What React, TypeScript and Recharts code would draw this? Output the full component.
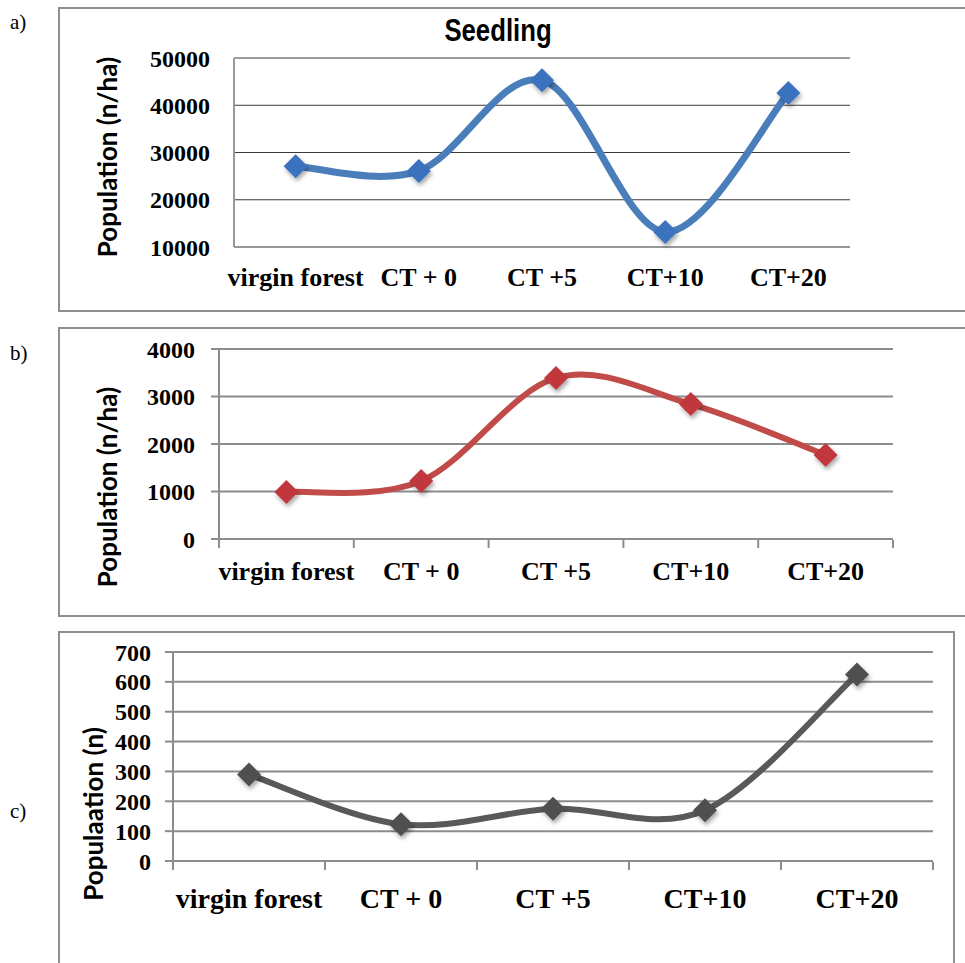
import React from 'react'
import { LineChart, Line, XAxis, YAxis, CartesianGrid } from 'recharts'

const categories = ['virgin forest', 'CT + 0', 'CT +5', 'CT+10', 'CT+20']
const seedlingValues = [27100, 26100, 45300, 13200, 42600]
const panelBValues = [990, 1220, 3390, 2840, 1770]
const panelCValues = [290, 123, 175, 170, 625]
const ticksA = [10000, 20000, 30000, 40000, 50000]
const ticksB = [0, 1000, 2000, 3000, 4000]
const ticksC = [0, 100, 200, 300, 400, 500, 600, 700]
const edgeTicks = [0, 1, 2, 3, 4, 5]

const toRows = (values: number[]) => categories.map((name, i) => ({ name, value: values[i] }))

// Excel-like smoothed line (Catmull-Rom through every point)
const smoothCurve = (context: any) => {
  let pts: number[][] = []
  return {
    areaStart() {},
    areaEnd() {},
    lineStart() {
      pts = []
    },
    point(x: number, y: number) {
      pts.push([+x, +y])
    },
    lineEnd() {
      const n = pts.length
      if (!n) return
      context.moveTo(pts[0][0], pts[0][1])
      for (let i = 0; i < n - 1; i++) {
        const p0 = pts[i - 1] || pts[i]
        const p1 = pts[i]
        const p2 = pts[i + 1]
        const p3 = pts[i + 2] || p2
        context.bezierCurveTo(
          p1[0] + (p2[0] - p0[0]) / 6,
          p1[1] + (p2[1] - p0[1]) / 6,
          p2[0] - (p3[0] - p1[0]) / 6,
          p2[1] - (p3[1] - p1[1]) / 6,
          p2[0],
          p2[1]
        )
      }
    },
  }
}

const diamond = (fill: string, r: number) => (props: any) => {
  const { cx, cy, index } = props
  if (cx == null || cy == null) return <g key={`d${index}`} />
  return (
    <polygon
      key={`d${index}`}
      points={`${cx},${cy - r} ${cx + r},${cy} ${cx},${cy + r} ${cx - r},${cy}`}
      fill={fill}
      filter="url(#markerShadow)"
    />
  )
}

const serif = "'Liberation Serif', 'Times New Roman', serif"
const yTickFont = { fill: '#000', fontSize: 24, fontWeight: 'bold', fontFamily: serif }
const xTickFont = (size: number) => ({ fill: '#000', fontSize: size, fontWeight: 'bold', fontFamily: serif })

const frame = (left: number, top: number, width: number, height: number): React.CSSProperties => ({
  position: 'absolute',
  left,
  top,
  width,
  height,
  border: '2px solid #8f8f8f',
  boxSizing: 'border-box',
})

const panelLabel = (top: number): React.CSSProperties => ({
  position: 'absolute',
  left: 10,
  top,
  fontFamily: serif,
  fontSize: 21,
  lineHeight: '24px',
  color: '#000',
})

const yTitle = (cx: number, cy: number): React.CSSProperties => ({
  position: 'absolute',
  left: cx,
  top: cy,
  transform: 'translate(-50%, -50%) rotate(-90deg)',
  whiteSpace: 'nowrap',
  fontFamily: "Lato, 'Open Sans', sans-serif",
  fontWeight: 'bold',
  fontSize: 26,
  lineHeight: '28px',
  color: '#000',
})

const blank = () => ''
const gray = '#8c8c8c'
const edgeTickLine = { stroke: gray, strokeWidth: 2 }
const grayAxis = { stroke: gray, strokeWidth: 2 }
const edgeDomain: [number, number] = [0, 5]

// tick marks between categories, like Excel's "between tick marks"
const EdgeAxis = () => (
  <XAxis
    xAxisId="edge"
    dataKey="edgeSlot"
    type="number"
    domain={edgeDomain}
    ticks={edgeTicks}
    allowDataOverflow
    height={1}
    tickFormatter={blank}
    tickSize={8}
    tickLine={edgeTickLine}
    axisLine={false}
    interval={0}
  />
)

export default function App() {
  return (
    <div style={{ position: 'absolute', left: 0, top: 0, width: 965, height: 963, background: '#fff', overflow: 'hidden' }}>
      <svg width={0} height={0} style={{ position: 'absolute' }}>
        <defs>
          <filter id="markerShadow" x="-50%" y="-50%" width="200%" height="200%">
            <feDropShadow dx="1.5" dy="3" stdDeviation="2" floodColor="#000" floodOpacity="0.35" />
          </filter>
        </defs>
      </svg>

      {/* panel a */}
      <div style={panelLabel(10)}>a)</div>
      <div style={frame(58, 7, 920, 305)} />
      <div
        style={{
          position: 'absolute',
          left: 498,
          top: 14,
          transform: 'translateX(-50%) scaleX(0.83)',
          fontFamily: "'Liberation Sans', Arial, sans-serif",
          fontWeight: 'bold',
          fontSize: 31,
          lineHeight: '34px',
          whiteSpace: 'nowrap',
        }}
      >
        Seedling
      </div>
      <div style={yTitle(107, 157)}>Population (n/ha)</div>
      <div style={{ position: 'absolute', left: 0, top: 0 }}>
        <LineChart width={965} height={320} data={toRows(seedlingValues)} margin={{ top: 58, right: 115, left: 174, bottom: 23 }}>
          <CartesianGrid horizontal vertical={false} stroke="#3a3a3a" strokeWidth={1} />
          <XAxis
            dataKey="name"
            scale="band"
            height={50}
            tickLine={false}
            tickSize={8}
            tickMargin={13}
            axisLine={{ stroke: '#999', strokeWidth: 2 }}
            tick={xTickFont(26)}
            interval={0}
          />
          <YAxis
            type="number"
            domain={[10000, 50000]}
            ticks={ticksA}
            width={60}
            tickLine={false}
            tickSize={6}
            tickMargin={18}
            axisLine={{ stroke: '#999', strokeWidth: 2 }}
            tick={yTickFont}
            interval={0}
          />
          <Line
            dataKey="value"
            type={smoothCurve as any}
            stroke="#4a7ebb"
            strokeWidth={7}
            dot={diamond('#3b72bd', 12)}
            activeDot={false}
            isAnimationActive={false}
          />
        </LineChart>
      </div>

      {/* panel b */}
      <div style={panelLabel(341)}>b)</div>
      <div style={frame(58, 327, 920, 290)} />
      <div style={yTitle(107, 487)}>Population (n/ha)</div>
      <div style={{ position: 'absolute', left: 0, top: 320 }}>
        <LineChart width={965} height={300} data={toRows(panelBValues)} margin={{ top: 29, right: 72, left: 159, bottom: 79 }}>
          <CartesianGrid horizontal vertical={false} stroke={gray} strokeWidth={2} />
          {EdgeAxis()}
          <XAxis
            xAxisId="cat"
            dataKey="name"
            scale="band"
            height={1}
            tickLine={false}
            tickSize={8}
            tickMargin={15}
            axisLine={grayAxis}
            tick={xTickFont(26)}
            interval={0}
          />
          <YAxis
            type="number"
            domain={[0, 4000]}
            ticks={ticksB}
            width={60}
            tickSize={8}
            tickMargin={16}
            tickLine={grayAxis}
            axisLine={grayAxis}
            tick={yTickFont}
            interval={0}
          />
          <Line
            xAxisId="cat"
            dataKey="value"
            type={smoothCurve as any}
            stroke="#c04b48"
            strokeWidth={6}
            dot={diamond('#c0393a', 12)}
            activeDot={false}
            isAnimationActive={false}
          />
        </LineChart>
      </div>

      {/* panel c */}
      <div style={panelLabel(799)}>c)</div>
      <div style={frame(58, 631, 897, 340)} />
      <div style={yTitle(93, 814)}>Populaation (n)</div>
      <div style={{ position: 'absolute', left: 0, top: 620 }}>
        <LineChart width={965} height={343} data={toRows(panelCValues)} margin={{ top: 32, right: 32, left: 113, bottom: 100 }}>
          <CartesianGrid horizontal vertical={false} stroke={gray} strokeWidth={2} />
          {EdgeAxis()}
          <XAxis
            xAxisId="cat"
            dataKey="name"
            scale="band"
            height={1}
            tickLine={false}
            tickSize={8}
            tickMargin={19}
            axisLine={grayAxis}
            tick={xTickFont(28)}
            interval={0}
          />
          <YAxis
            type="number"
            domain={[0, 700]}
            ticks={ticksC}
            width={60}
            tickSize={8}
            tickMargin={14}
            tickLine={grayAxis}
            axisLine={grayAxis}
            tick={yTickFont}
            interval={0}
          />
          <Line
            xAxisId="cat"
            dataKey="value"
            type={smoothCurve as any}
            stroke="#595959"
            strokeWidth={6}
            dot={diamond('#505050', 12)}
            activeDot={false}
            isAnimationActive={false}
          />
        </LineChart>
      </div>
    </div>
  )
}
